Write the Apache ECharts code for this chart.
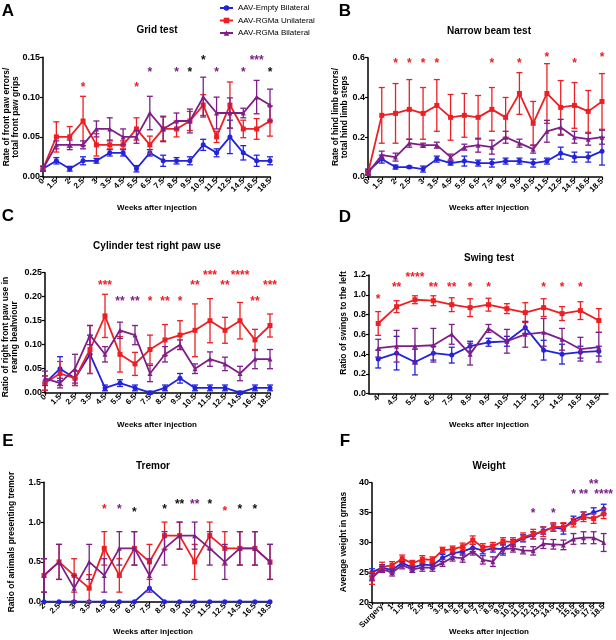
<!DOCTYPE html>
<html><head><meta charset="utf-8">
<script src="https://cdn.jsdelivr.net/npm/echarts@6/dist/echarts.min.js"></script>
<style>html,body{margin:0;padding:0;background:#fff}#c{width:616px;height:640px}</style>
</head><body><div id="c"></div>
<script>
// ===== DATA =====
const seriesNames = ['AAV-Empty Bilateral','AAV-RGMa Unilateral','AAV-RGMa Bilateral'];

// A: Grid test
const gridCats = ['0','1.5','2','2.5','3','3.5','4.5','5.5','6.5','7.5','8.5','9.5','10.5','11.5','12.5','14.5','16.5','18.5'];
const gridEmpty = [0.01,0.02,0.01,0.02,0.02,0.03,0.03,0.01,0.03,0.02,0.02,0.02,0.04,0.03,0.05,0.03,0.02,0.02];
const gridEmptyErr = [0.003,0.004,0.003,0.005,0.003,0.004,0.004,0.004,0.004,0.007,0.004,0.005,0.007,0.005,0.021,0.009,0.007,0.005];
const gridUni = [0.01,0.05,0.05,0.07,0.04,0.04,0.04,0.06,0.04,0.06,0.06,0.07,0.09,0.05,0.09,0.06,0.06,0.07];
const gridUniErr = [0.003,0.019,0.013,0.031,0.014,0.005,0.005,0.014,0.011,0.015,0.01,0.012,0.013,0.007,0.029,0.011,0.013,0.019];
const gridBi = [0.01,0.04,0.04,0.04,0.06,0.06,0.05,0.05,0.08,0.06,0.07,0.07,0.10,0.08,0.08,0.08,0.10,0.09];
const gridBiErr = [0.003,0.005,0.006,0.005,0.01,0.014,0.01,0.008,0.021,0.016,0.01,0.015,0.025,0.02,0.019,0.006,0.021,0.02];
const gridTicks = ['0.00','0.05','0.10','0.15'];
const gridStars = [['2.5',0.116,'*','r'],['5.5',0.116,'*','r'],['6.5',0.135,'*','p'],['8.5',0.135,'*','p'],['9.5',0.135,'*','k'],['10.5',0.149,'*','k'],['11.5',0.135,'*','p'],['14.5',0.135,'*','p'],['16.5',0.149,'***','p'],['18.5',0.135,'*','k']];

// B: Narrow beam test
const beamCats = ['0','1.5','2','2.5','3','3.5','4.5','5.5','6.5','7.5','8.5','9.5','10.5','11.5','12.5','14.5','16.5','18.5'];
const beamEmpty = [0.03,0.09,0.05,0.05,0.04,0.09,0.07,0.08,0.07,0.07,0.08,0.08,0.07,0.08,0.12,0.10,0.10,0.13];
const beamEmptyErr = [0.01,0.02,0.01,0.005,0.015,0.015,0.01,0.025,0.015,0.02,0.015,0.015,0.02,0.015,0.03,0.025,0.025,0.07];
const beamUni = [0.02,0.31,0.32,0.34,0.32,0.36,0.30,0.31,0.30,0.34,0.30,0.42,0.27,0.42,0.35,0.36,0.33,0.38];
const beamUniErr = [0.01,0.14,0.15,0.15,0.13,0.13,0.115,0.11,0.11,0.11,0.10,0.105,0.11,0.15,0.135,0.115,0.105,0.14];
const beamBi = [0.02,0.11,0.10,0.17,0.16,0.16,0.10,0.15,0.16,0.15,0.20,0.17,0.14,0.23,0.25,0.20,0.19,0.20];
const beamBiErr = [0.01,0.02,0.02,0.02,0.01,0.015,0.015,0.015,0.035,0.035,0.03,0.02,0.02,0.055,0.04,0.03,0.03,0.035];
const beamTicks = ['0.0','0.2','0.4','0.6'];
const beamStars = [['2',0.585,'*','r'],['2.5',0.585,'*','r'],['3',0.585,'*','r'],['3.5',0.585,'*','r'],['7.5',0.585,'*','r'],['9.5',0.585,'*','r'],['11.5',0.617,'*','r'],['14.5',0.585,'*','r'],['18.5',0.617,'*','r']];

// C: Cylinder test right paw use
const cylCats = ['0','1.5','2.5','3.5','4.5','5.5','6.5','7.5','8.5','9.5','10.5','11.5','12.5','14.5','16.5','18.5'];
const cylEmpty = [0.02,0.05,0.03,0.08,0.01,0.02,0.01,0.00,0.01,0.03,0.01,0.01,0.01,0.00,0.01,0.01];
const cylEmptyErr = [0.015,0.025,0.015,0.04,0.006,0.007,0.006,0.003,0.006,0.01,0.006,0.006,0.006,0.003,0.006,0.006];
const cylUni = [0.02,0.04,0.03,0.09,0.16,0.08,0.06,0.09,0.11,0.12,0.13,0.15,0.13,0.15,0.11,0.14];
const cylUniErr = [0.015,0.025,0.015,0.05,0.045,0.037,0.024,0.03,0.032,0.03,0.055,0.046,0.027,0.038,0.022,0.024];
const cylBi = [0.03,0.02,0.05,0.12,0.08,0.13,0.12,0.04,0.08,0.10,0.05,0.07,0.06,0.04,0.07,0.07];
const cylBiErr = [0.015,0.01,0.03,0.02,0.016,0.017,0.02,0.017,0.016,0.01,0.01,0.015,0.014,0.015,0.02,0.02];
const cylTicks = ['0.00','0.05','0.10','0.15','0.20','0.25'];
const cylStars = [['4.5',0.23,'***','r'],['5.5',0.196,'**','p'],['6.5',0.196,'**','p'],['7.5',0.196,'*','r'],['8.5',0.196,'**','r'],['9.5',0.196,'*','r'],['10.5',0.23,'**','r'],['11.5',0.249,'***','r'],['12.5',0.23,'**','r'],['14.5',0.249,'****','r'],['16.5',0.196,'**','r'],['18.5',0.23,'***','r']];

// D: Swing test
const swingCats = ['4','4.5','5.5','6.5','7.5','8.5','9.5','10.5','11.5','12.5','14.5','16.5','18.5'];
const swingEmpty = [0.35,0.41,0.32,0.41,0.39,0.48,0.52,0.53,0.67,0.44,0.40,0.42,0.43];
const swingEmptyErr = [0.09,0.17,0.13,0.07,0.08,0.05,0.04,0.05,0.06,0.10,0.10,0.06,0.05];
const swingUni = [0.71,0.88,0.95,0.94,0.90,0.87,0.90,0.86,0.82,0.87,0.81,0.84,0.74];
const swingUniErr = [0.12,0.06,0.04,0.05,0.07,0.09,0.065,0.05,0.10,0.09,0.07,0.09,0.12];
const swingBi = [0.46,0.48,0.48,0.49,0.60,0.40,0.66,0.53,0.60,0.62,0.55,0.45,0.47];
const swingBiErr = [0.09,0.16,0.18,0.17,0.10,0.11,0.04,0.12,0.13,0.14,0.11,0.12,0.15];
const swingTicks = ['0.0','0.2','0.4','0.6','0.8','1.0','1.2'];
const swingStars = [['4',0.98,'*','r'],['4.5',1.10,'**','r'],['5.5',1.20,'****','r'],['6.5',1.10,'**','r'],['7.5',1.10,'**','r'],['8.5',1.10,'*','r'],['9.5',1.10,'*','r'],['12.5',1.10,'*','r'],['14.5',1.10,'*','r'],['16.5',1.10,'*','r']];

// E: Tremor
const tremorCats = ['2','2.5','3','3.5','4.5','5.5','6.5','7.5','8.5','9.5','10.5','11.5','12.5','14.5','16.5','18.5'];
const tremorEmpty = [0,0,0,0,0,0,0,0.17,0,0,0,0,0,0,0,0];
const tremorEmptyErr = [0,0,0,0,0,0,0,0,0,0,0,0,0,0,0,0];
const tremorUni = [0.33,0.5,0.33,0.17,0.67,0.33,0.67,0.5,0.83,0.83,0.5,0.83,0.67,0.67,0.67,0.5];
const tremorUniErr = [0.21,0.22,0.21,0.17,0.21,0.21,0.21,0.22,0.17,0.17,0.22,0.17,0.21,0.21,0.21,0.22];
const tremorBi = [0.33,0.5,0.17,0.5,0.33,0.67,0.67,0.33,0.67,0.83,0.83,0.67,0.5,0.67,0.67,0.5];
const tremorBiErr = [0.21,0.22,0.16,0.22,0.21,0.21,0.21,0.21,0.21,0.17,0.17,0.21,0.22,0.21,0.21,0.22];
const tremorTicks = ['0.0','0.5','1.0','1.5'];
const tremorStars = [['4.5',1.19,'*','r'],['5.5',1.19,'*','p'],['6.5',1.16,'*','k'],['8.5',1.19,'*','k'],['9.5',1.26,'**','k'],['10.5',1.26,'**','p'],['11.5',1.26,'*','k'],['12.5',1.17,'*','r'],['14.5',1.19,'*','k'],['16.5',1.19,'*','k']];

// F: Weight
const weightCats = ['0','Surgery','1','1.5','2','2.5','3','3.5','4.5','5.5','6.5','7.5','8.5','9.5','10.5','11.5','12.5','13.5','14.5','15','15.5','16.5','17.5','18.5'];
const weightEmpty = [25.0,25.8,25.4,26.6,25.8,26.3,26.2,27.4,28.2,28.5,29.1,28.7,29.0,28.9,29.9,30.7,31.2,32.0,32.5,32.3,33.8,34.5,35.0,35.6];
const weightEmptyErr = [0.6,0.5,0.5,0.5,0.4,0.5,0.5,0.6,0.6,0.6,0.6,0.6,0.6,1.0,0.6,0.6,0.6,0.6,0.6,0.9,0.6,0.6,0.8,0.8];
const weightUni = [24.0,25.9,26.2,27.3,26.5,27.2,27.1,28.7,28.9,29.3,30.4,29.2,29.4,30.2,30.1,30.9,31.4,31.8,32.6,32.6,33.3,34.3,34.0,34.8];
const weightUniErr = [1.0,0.8,0.6,0.6,0.5,0.6,0.5,0.5,0.5,0.6,0.7,0.6,0.6,0.6,0.7,0.7,0.8,0.8,0.7,0.7,0.7,0.8,0.8,0.8];
const weightBi = [24.2,25.5,25.0,26.2,25.5,25.8,25.8,26.6,27.5,27.4,28.5,27.1,26.8,28.9,29.0,28.7,28.6,29.8,29.7,29.6,30.6,30.8,30.8,30.0];
const weightBiErr = [0.6,0.5,0.6,0.6,0.5,0.6,0.6,0.6,0.6,0.7,0.6,0.7,0.8,0.7,0.6,0.6,0.7,0.8,0.8,0.8,0.9,1.0,1.0,1.5];
const weightTicks = ['20','25','30','35','40'];
const weightStars = [['12.5',35.4,'*','p'],['14.5',35.4,'*','p'],['15.5',38.5,'*','p'],['16.5',38.5,'**','p'],['17.5',40.1,'**','p'],['18.5',38.5,'****','p']];

// ===== STYLE / LAYOUT =====
const COL = {b:'#2323dc', r:'#ec2024', p:'#7e1f88', k:'#111111'};
const setColors = [COL.b, COL.r, COL.p];
const setSymbols = ['circle','rect','triangle'];
const FF = '"Liberation Sans", Arial, sans-serif';

const panels = [
  {letter:'A', title:'Grid test', cats:gridCats, sets:[[gridEmpty,gridEmptyErr],[gridUni,gridUniErr],[gridBi,gridBiErr]], stars:gridStars, ticks:gridTicks, min:0, max:0.15, step:0.05,
   grid:{left:43,top:57.3,width:227,height:119.4}, gap:false, L:[8,11], T:[157,30], Y:[11,117], yname:'Rate of front paw errors/\ntotal front paw grips', X:[157,208]},
  {letter:'B', title:'Narrow beam test', cats:beamCats, sets:[[beamEmpty,beamEmptyErr],[beamUni,beamUniErr],[beamBi,beamBiErr]], stars:beamStars, ticks:beamTicks, min:0, max:0.6, step:0.2,
   grid:{left:368,top:57.7,width:234,height:119.3}, gap:false, L:[345,11], T:[489,31], Y:[340,117], yname:'Rate of hind limb errors/\ntotal hind limb steps', X:[489,208]},
  {letter:'C', title:'Cylinder test right paw use', cats:cylCats, sets:[[cylEmpty,cylEmptyErr],[cylUni,cylUniErr],[cylBi,cylBiErr]], stars:cylStars, ticks:cylTicks, min:0, max:0.25, step:0.05,
   grid:{left:45,top:272.7,width:225,height:120}, gap:false, L:[8,216], T:[157,246], Y:[10,337], yname:'Ratio of right front paw use in\nrearing beahviour', X:[157,425]},
  {letter:'D', title:'Swing test', cats:swingCats, sets:[[swingEmpty,swingEmptyErr],[swingUni,swingUniErr],[swingBi,swingBiErr]], stars:swingStars, ticks:swingTicks, min:0, max:1.2, step:0.2,
   grid:{left:369,top:275,width:239,height:118.7}, gap:true, L:[345,217], T:[489,258], Y:[344,323], yname:'Ratio of swings to the left', X:[489,425]},
  {letter:'E', title:'Tremor', cats:tremorCats, sets:[[tremorEmpty,tremorEmptyErr],[tremorUni,tremorUniErr],[tremorBi,tremorBiErr]], stars:tremorStars, ticks:tremorTicks, min:0, max:1.5, step:0.5,
   grid:{left:44,top:482.3,width:226,height:119.4}, gap:false, L:[8,441], T:[153,466], Y:[12,542], yname:'Ratio of animals presenting tremor', X:[153,632]},
  {letter:'F', title:'Weight', cats:weightCats, sets:[[weightEmpty,weightEmptyErr],[weightUni,weightUniErr],[weightBi,weightBiErr]], stars:weightStars, ticks:weightTicks, min:20, max:40, step:5,
   grid:{left:372,top:482.7,width:231.7,height:119.6}, gap:false, L:[345,441], T:[489,466], Y:[344,542], yname:'Average weight in grmas', X:[489,632]}
];

function errRender(color){
  return function(params, api){
    const x = api.value(0), m = api.value(1), e = api.value(2);
    if (!e) return null;
    const t = api.coord([x, m + e]), b = api.coord([x, m - e]);
    const w = 3, st = {stroke: color, lineWidth: 1.3};
    return {type:'group', children:[
      {type:'line', shape:{x1:t[0],y1:t[1],x2:b[0],y2:b[1]}, style:st},
      {type:'line', shape:{x1:t[0]-w,y1:t[1],x2:t[0]+w,y2:t[1]}, style:st},
      {type:'line', shape:{x1:b[0]-w,y1:b[1],x2:b[0]+w,y2:b[1]}, style:st}
    ]};
  };
}
function starRender(stars){
  return function(params, api){
    const s = stars[params.dataIndex];
    const p = api.coord([api.value(0), api.value(1)]);
    return {type:'text', x:p[0], y:p[1] + 3, style:{text:s[2], fill:COL[s[3]], font:'bold 12px ' + FF, align:'center', verticalAlign:'middle', textAlign:'center', textVerticalAlign:'middle'}};
  };
}

const grids = [], xAxes = [], yAxes = [], series = [], graphics = [];
panels.forEach((P, gi) => {
  grids.push(Object.assign({containLabel:false}, P.grid));
  xAxes.push({type:'category', gridIndex:gi, data:P.cats, boundaryGap:P.gap,
    axisLine:{lineStyle:{color:'#000', width:1.5}},
    axisTick:{show:true, length:3, alignWithLabel:true, interval:0, lineStyle:{color:'#000', width:1.2}},
    axisLabel:{interval:0, rotate:45, fontSize:8, fontWeight:'bold', color:'#000', fontFamily:FF, margin:3},
    splitLine:{show:false}});
  yAxes.push({type:'value', gridIndex:gi, min:P.min, max:P.max, interval:P.step,
    axisLine:{show:true, lineStyle:{color:'#000', width:1.5}},
    axisTick:{show:true, length:3, lineStyle:{color:'#000', width:1.2}},
    axisLabel:{fontSize:9, fontWeight:'bold', color:'#000', fontFamily:FF, margin:3,
      formatter:(v)=>P.ticks[Math.round((v - P.min)/P.step)]},
    splitLine:{show:false}});
  P.sets.forEach((S, si) => {
    series.push({type:'custom', xAxisIndex:gi, yAxisIndex:gi, renderItem:errRender(setColors[si]),
      data:P.cats.map((c,i)=>[i, S[0][i], S[1][i]]), encode:{x:0, y:1}, z:2+si*2, silent:true});
    series.push({type:'line', name:seriesNames[si], xAxisIndex:gi, yAxisIndex:gi, data:S[0],
      symbol:setSymbols[si], symbolSize:5, color:setColors[si], lineStyle:{width:1.8, color:setColors[si]},
      itemStyle:{color:setColors[si]}, z:3+si*2, silent:true});
  });
  series.push({type:'custom', xAxisIndex:gi, yAxisIndex:gi, renderItem:starRender(P.stars),
    data:P.stars.map(s=>[P.cats.indexOf(s[0]), s[1]]), encode:{x:0, y:1}, z:10, silent:true, clip:false});
  graphics.push({type:'text', x:P.L[0], y:P.L[1], style:{text:P.letter, font:'bold 17px ' + FF, fill:'#000', align:'center', verticalAlign:'middle'}});
  graphics.push({type:'text', x:P.T[0], y:P.T[1], style:{text:P.title, font:'bold 10px ' + FF, fill:'#000', align:'center', verticalAlign:'middle'}});
  graphics.push({type:'text', x:P.X[0], y:P.X[1], style:{text:'Weeks after injection', font:'bold 8px ' + FF, fill:'#000', align:'center', verticalAlign:'middle'}});
  graphics.push({type:'text', x:P.Y[0], y:P.Y[1], rotation:Math.PI/2, style:{text:P.yname, font:'bold 8.5px ' + FF, lineHeight:9.5, fill:'#000', align:'center', verticalAlign:'middle'}});
});

const chart = echarts.init(document.getElementById('c'), null, {renderer:'canvas'});
chart.setOption({
  animation:false,
  backgroundColor:'#fff',
  legend:{data:seriesNames, orient:'vertical', left:219, top:4, itemWidth:13, itemHeight:7, itemGap:4.5, padding:0,
    textStyle:{fontSize:8, color:'#000', fontFamily:FF}, selectedMode:false},
  grid:grids, xAxis:xAxes, yAxis:yAxes, series:series, graphic:graphics
});
</script></body></html>
